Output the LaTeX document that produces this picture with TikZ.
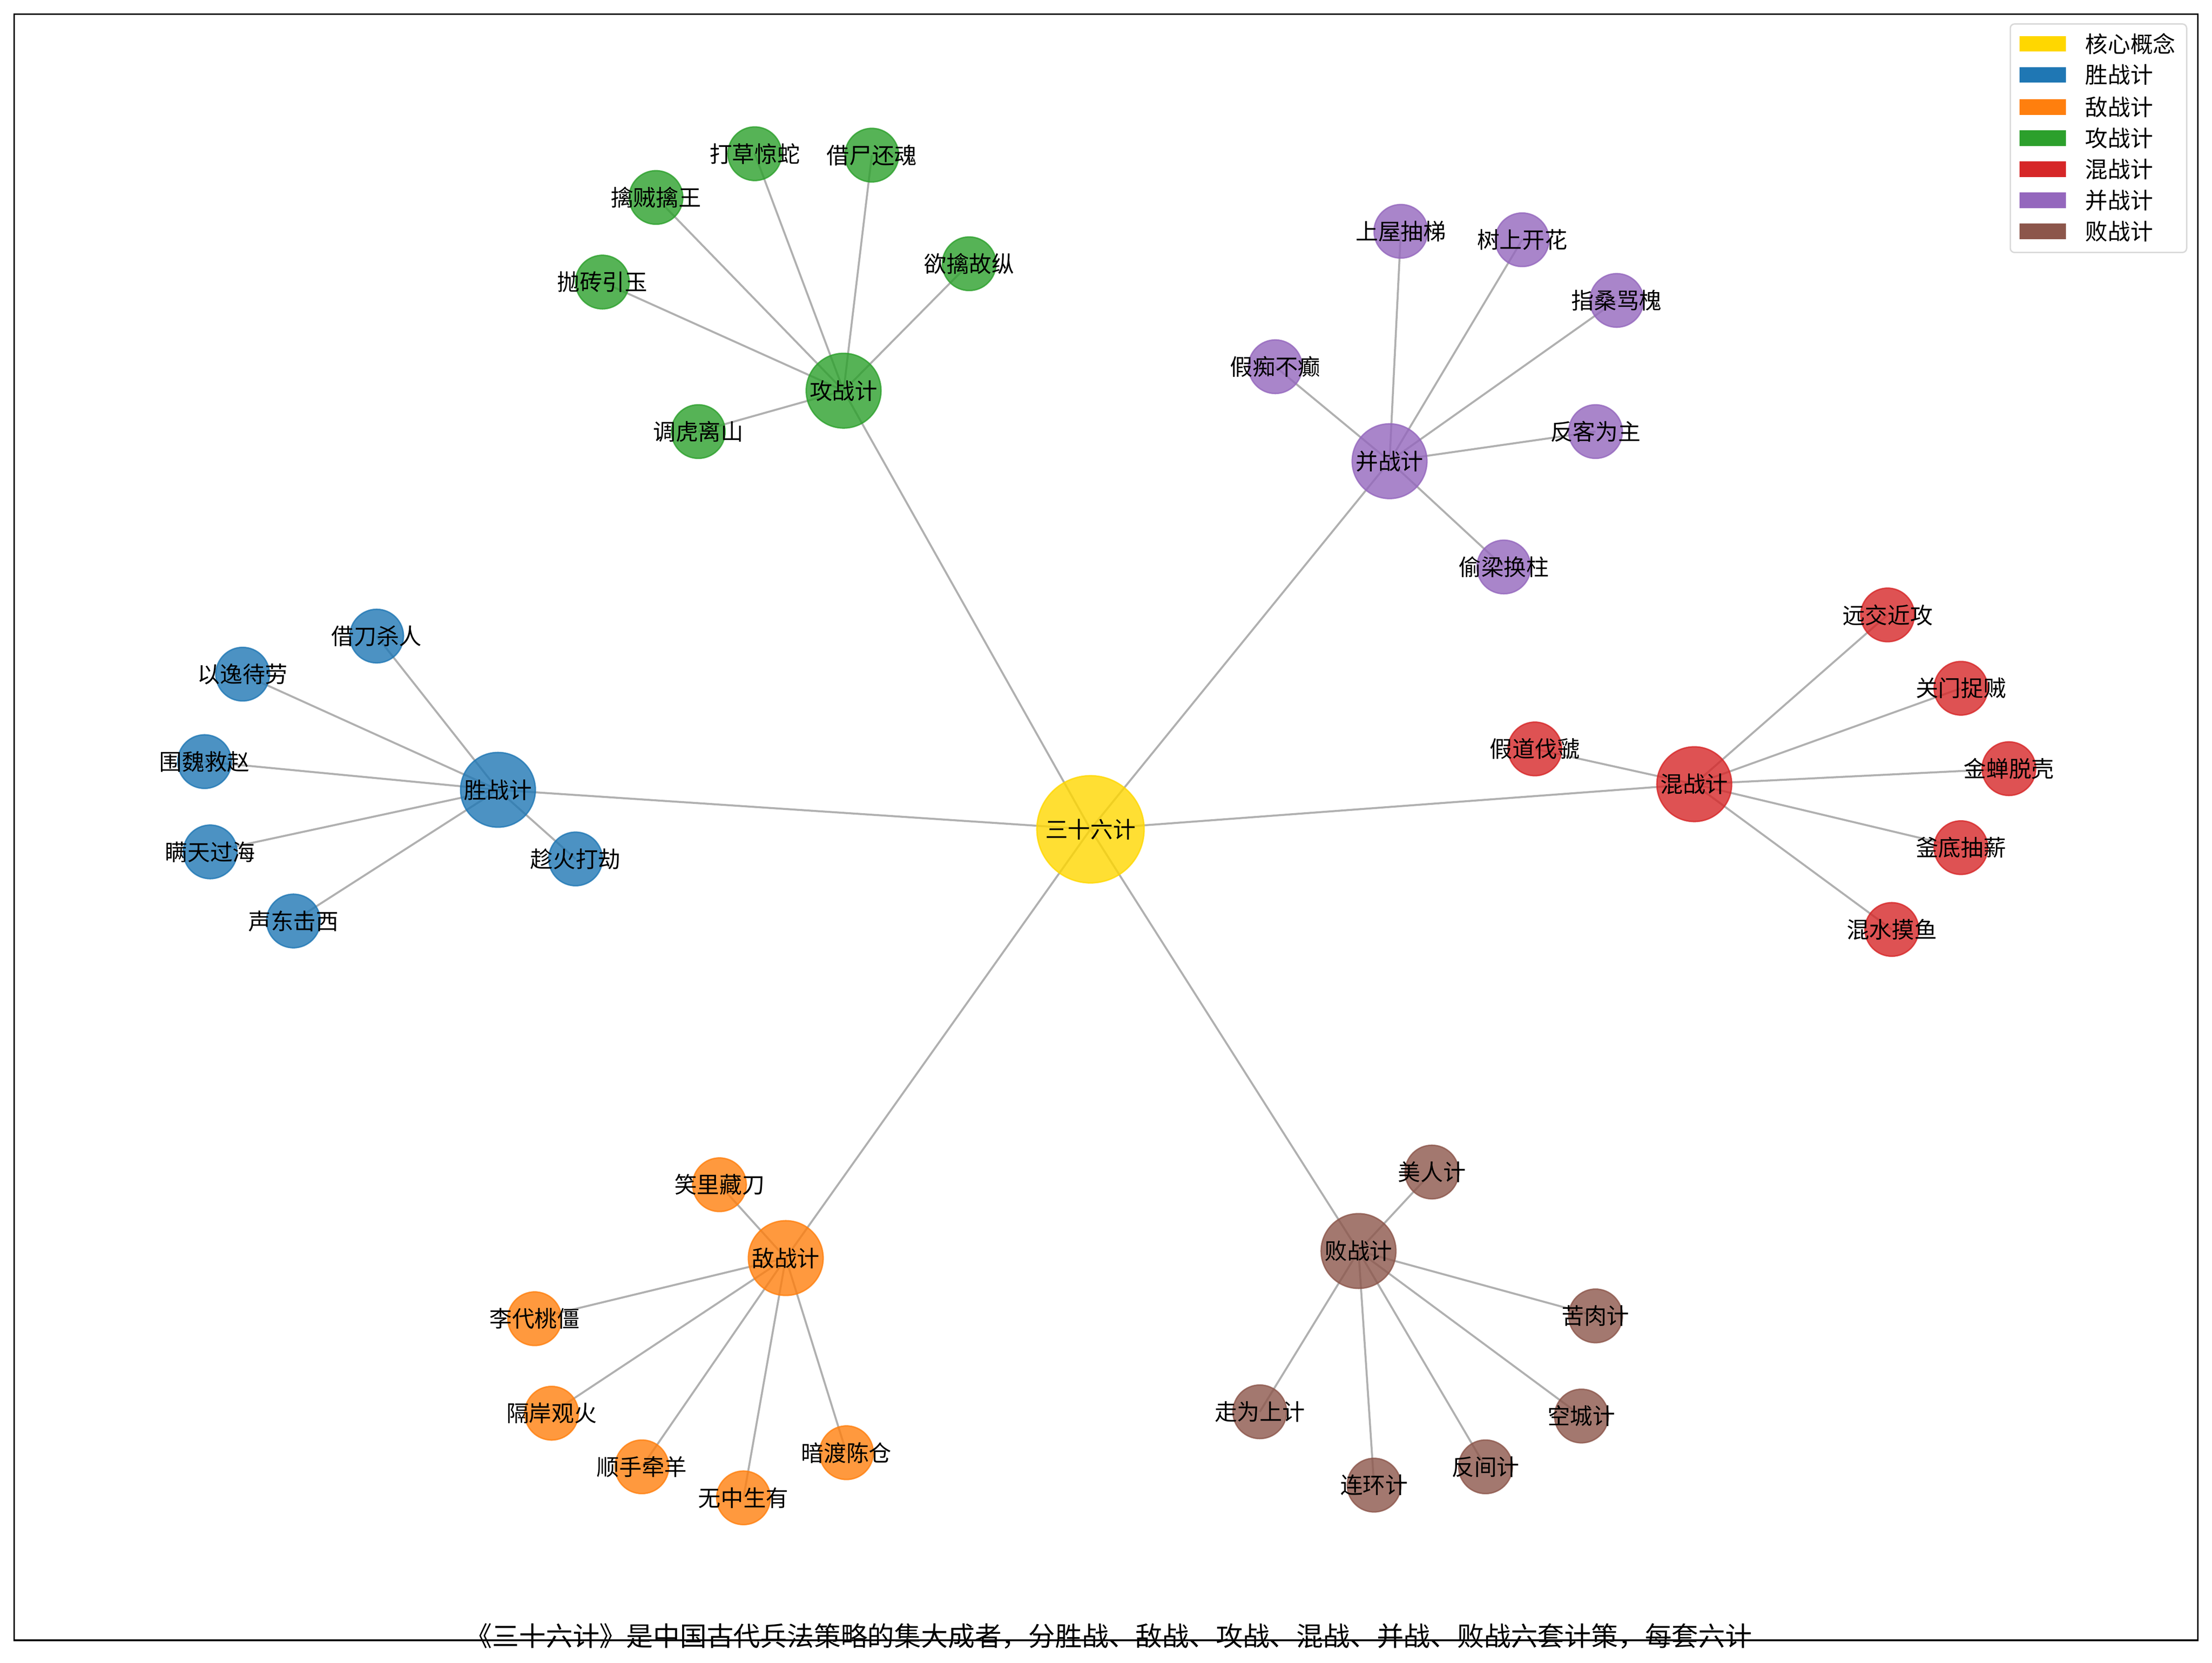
\documentclass[tikz,border=0pt]{standalone}
\usepackage{fontspec}
\setmainfont{Noto Sans CJK SC}
\definecolor{core}{HTML}{FFD700}
\definecolor{sheng}{HTML}{1F77B4}
\definecolor{di}{HTML}{FF7F0E}
\definecolor{gong}{HTML}{2CA02C}
\definecolor{hun}{HTML}{D62728}
\definecolor{bing}{HTML}{9467BD}
\definecolor{bai}{HTML}{8C564B}
\definecolor{edgegray}{HTML}{B0B0B0}
\pgfdeclarelayer{background}
\pgfsetlayers{background,main}

\begin{document}
\begin{tikzpicture}[x=1pt, y=-1pt,
  dot/.style={circle, inner sep=0pt, draw=#1, fill=#1, fill opacity=0.8, draw opacity=0.8, text opacity=1, line width=1pt, font=\fontsize{16}{16}\selectfont},
  hub/.style={dot=core, minimum size=76pt},
  set/.style={dot=#1, minimum size=53pt},
  plan/.style={dot=#1, minimum size=38pt},
  link/.style={draw=edgegray, line width=1.4pt},
  patch/.style={rectangle, inner sep=0pt, fill=#1, minimum width=33pt, minimum height=11pt},
  entry/.style={anchor=west, inner sep=0pt, font=\fontsize{16}{16}\selectfont}]
\useasboundingbox (0,0) rectangle (1568,1179);
\draw[line width=1.1pt] (10,10) rectangle (1558,1163);

\node[hub] (0) at (773,588) {\makebox[0pt]{三十六计}};

\node[set=sheng] (1) at (353,560) {\makebox[0pt]{胜战计}};
\node[set=gong] (2) at (598,277) {\makebox[0pt]{攻战计}};
\node[set=bing] (3) at (985,327) {\makebox[0pt]{并战计}};
\node[set=hun] (4) at (1201,556) {\makebox[0pt]{混战计}};
\node[set=bai] (5) at (963,887) {\makebox[0pt]{败战计}};
\node[set=di] (6) at (557,892) {\makebox[0pt]{敌战计}};

\node[plan=sheng] (11) at (267,451) {\makebox[0pt]{借刀杀人}};
\node[plan=sheng] (12) at (172,478) {\makebox[0pt]{以逸待劳}};
\node[plan=sheng] (13) at (145,540) {\makebox[0pt]{围魏救赵}};
\node[plan=sheng] (14) at (149,604) {\makebox[0pt]{瞒天过海}};
\node[plan=sheng] (15) at (208,653) {\makebox[0pt]{声东击西}};
\node[plan=sheng] (16) at (408,609) {\makebox[0pt]{趁火打劫}};

\node[plan=gong] (21) at (535,109) {\makebox[0pt]{打草惊蛇}};
\node[plan=gong] (22) at (618,110) {\makebox[0pt]{借尸还魂}};
\node[plan=gong] (23) at (465,140) {\makebox[0pt]{擒贼擒王}};
\node[plan=gong] (24) at (687,187) {\makebox[0pt]{欲擒故纵}};
\node[plan=gong] (25) at (427,200) {\makebox[0pt]{抛砖引玉}};
\node[plan=gong] (26) at (495,306) {\makebox[0pt]{调虎离山}};

\node[plan=bing] (31) at (993,164) {\makebox[0pt]{上屋抽梯}};
\node[plan=bing] (32) at (1079,170) {\makebox[0pt]{树上开花}};
\node[plan=bing] (33) at (1146,213) {\makebox[0pt]{指桑骂槐}};
\node[plan=bing] (34) at (904,260) {\makebox[0pt]{假痴不癫}};
\node[plan=bing] (35) at (1131,306) {\makebox[0pt]{反客为主}};
\node[plan=bing] (36) at (1066,402) {\makebox[0pt]{偷梁换柱}};

\node[plan=hun] (41) at (1338,436) {\makebox[0pt]{远交近攻}};
\node[plan=hun] (42) at (1390,488) {\makebox[0pt]{关门捉贼}};
\node[plan=hun] (43) at (1088,531) {\makebox[0pt]{假道伐虢}};
\node[plan=hun] (44) at (1424,545) {\makebox[0pt]{金蝉脱壳}};
\node[plan=hun] (45) at (1390,601) {\makebox[0pt]{釜底抽薪}};
\node[plan=hun] (46) at (1341,659) {\makebox[0pt]{混水摸鱼}};

\node[plan=bai] (51) at (1015,831) {\makebox[0pt]{美人计}};
\node[plan=bai] (52) at (1131,933) {\makebox[0pt]{苦肉计}};
\node[plan=bai] (53) at (1121,1004) {\makebox[0pt]{空城计}};
\node[plan=bai] (54) at (1053,1040) {\makebox[0pt]{反间计}};
\node[plan=bai] (55) at (974,1053) {\makebox[0pt]{连环计}};
\node[plan=bai] (56) at (893,1001) {\makebox[0pt]{走为上计}};

\node[plan=di] (61) at (510,840) {\makebox[0pt]{笑里藏刀}};
\node[plan=di] (62) at (379,935) {\makebox[0pt]{李代桃僵}};
\node[plan=di] (63) at (391,1002) {\makebox[0pt]{隔岸观火}};
\node[plan=di] (64) at (600,1030) {\makebox[0pt]{暗渡陈仓}};
\node[plan=di] (65) at (455,1040) {\makebox[0pt]{顺手牵羊}};
\node[plan=di] (66) at (527,1062) {\makebox[0pt]{无中生有}};

\begin{pgfonlayer}{background}
\draw[link] (0.center) -- (1.center);
\draw[link] (0.center) -- (2.center);
\draw[link] (0.center) -- (3.center);
\draw[link] (0.center) -- (4.center);
\draw[link] (0.center) -- (5.center);
\draw[link] (0.center) -- (6.center);

\draw[link] (1.center) -- (11.center);
\draw[link] (1.center) -- (12.center);
\draw[link] (1.center) -- (13.center);
\draw[link] (1.center) -- (14.center);
\draw[link] (1.center) -- (15.center);
\draw[link] (1.center) -- (16.center);

\draw[link] (2.center) -- (21.center);
\draw[link] (2.center) -- (22.center);
\draw[link] (2.center) -- (23.center);
\draw[link] (2.center) -- (24.center);
\draw[link] (2.center) -- (25.center);
\draw[link] (2.center) -- (26.center);

\draw[link] (3.center) -- (31.center);
\draw[link] (3.center) -- (32.center);
\draw[link] (3.center) -- (33.center);
\draw[link] (3.center) -- (34.center);
\draw[link] (3.center) -- (35.center);
\draw[link] (3.center) -- (36.center);

\draw[link] (4.center) -- (41.center);
\draw[link] (4.center) -- (42.center);
\draw[link] (4.center) -- (43.center);
\draw[link] (4.center) -- (44.center);
\draw[link] (4.center) -- (45.center);
\draw[link] (4.center) -- (46.center);

\draw[link] (5.center) -- (51.center);
\draw[link] (5.center) -- (52.center);
\draw[link] (5.center) -- (53.center);
\draw[link] (5.center) -- (54.center);
\draw[link] (5.center) -- (55.center);
\draw[link] (5.center) -- (56.center);

\draw[link] (6.center) -- (61.center);
\draw[link] (6.center) -- (62.center);
\draw[link] (6.center) -- (63.center);
\draw[link] (6.center) -- (64.center);
\draw[link] (6.center) -- (65.center);
\draw[link] (6.center) -- (66.center);
\end{pgfonlayer}

% legend
\draw[draw=black!15, fill=white, line width=1pt, rounded corners=3pt] (1425,17) rectangle (1550,179);
\node[patch=core] (k0) at (1448,31) {};
\node[patch=sheng] (k1) at (1448,53) {};
\node[patch=di] (k2) at (1448,76) {};
\node[patch=gong] (k3) at (1448,98) {};
\node[patch=hun] (k4) at (1448,120) {};
\node[patch=bing] (k5) at (1448,142) {};
\node[patch=bai] (k6) at (1448,164) {};
\node[entry] (t0) at (1478,31) {核心概念};
\node[entry] (t1) at (1478,53) {胜战计};
\node[entry] (t2) at (1478,76) {敌战计};
\node[entry] (t3) at (1478,98) {攻战计};
\node[entry] (t4) at (1478,120) {混战计};
\node[entry] (t5) at (1478,142) {并战计};
\node[entry] (t6) at (1478,164) {败战计};

\node[font=\fontsize{19}{19}\selectfont] (caption) at (786,1160) {《三十六计》是中国古代兵法策略的集大成者，分胜战、敌战、攻战、混战、并战、败战六套计策，每套六计};
\end{tikzpicture}
\end{document}
